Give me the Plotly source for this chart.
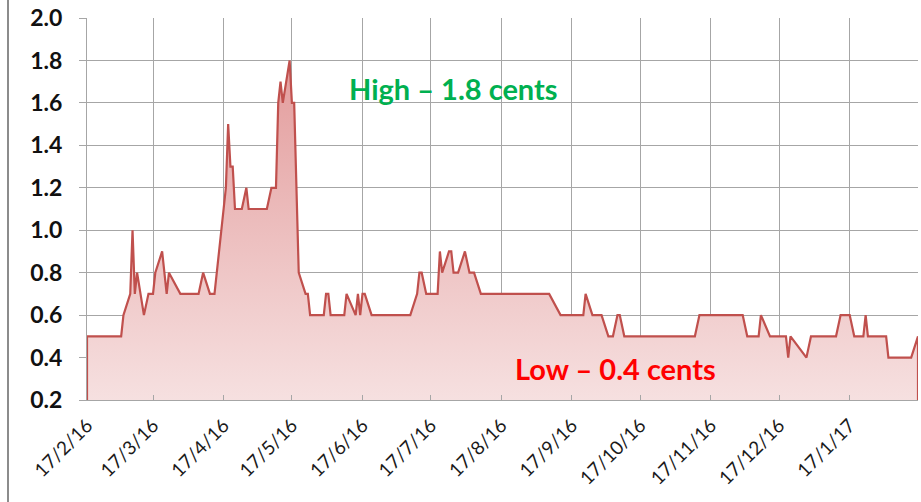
import plotly.graph_objects as go

# ---- data ----
dates = [
    "2016-02-17", "2016-03-03", "2016-03-04", "2016-03-07", "2016-03-08", "2016-03-09",
    "2016-03-10", "2016-03-13", "2016-03-15", "2016-03-17", "2016-03-18", "2016-03-21",
    "2016-03-23", "2016-03-24", "2016-03-29", "2016-04-06", "2016-04-08", "2016-04-11",
    "2016-04-13", "2016-04-18", "2016-04-19", "2016-04-20", "2016-04-21", "2016-04-22",
    "2016-04-25", "2016-04-27", "2016-04-28", "2016-05-06", "2016-05-08", "2016-05-10",
    "2016-05-11", "2016-05-12", "2016-05-13", "2016-05-16", "2016-05-17", "2016-05-18",
    "2016-05-20", "2016-05-23", "2016-05-24", "2016-05-25", "2016-05-31", "2016-06-01",
    "2016-06-02", "2016-06-03", "2016-06-09", "2016-06-10", "2016-06-14", "2016-06-15",
    "2016-06-16", "2016-06-17", "2016-06-18", "2016-06-21", "2016-07-08", "2016-07-11",
    "2016-07-12", "2016-07-13", "2016-07-15", "2016-07-20", "2016-07-21", "2016-07-22",
    "2016-07-25", "2016-07-26", "2016-07-27", "2016-07-29", "2016-08-01", "2016-08-03",
    "2016-08-05", "2016-08-08", "2016-09-07", "2016-09-12", "2016-09-22", "2016-09-23",
    "2016-09-26", "2016-09-30", "2016-10-03", "2016-10-05", "2016-10-07", "2016-10-08",
    "2016-10-10", "2016-11-10", "2016-11-12", "2016-12-01", "2016-12-03", "2016-12-08",
    "2016-12-09", "2016-12-13", "2016-12-20", "2016-12-21", "2016-12-22", "2016-12-29",
    "2016-12-31", "2017-01-11", "2017-01-13", "2017-01-17", "2017-01-19", "2017-01-23",
    "2017-01-24", "2017-01-25", "2017-02-02", "2017-02-03", "2017-02-13", "2017-02-16",
]
cents = [
    0.5, 0.5, 0.6, 0.7, 1.0, 0.7,
    0.8, 0.6, 0.7, 0.7, 0.8, 0.9,
    0.7, 0.8, 0.7, 0.7, 0.8, 0.7,
    0.7, 1.2, 1.5, 1.3, 1.3, 1.1,
    1.1, 1.2, 1.1, 1.1, 1.2, 1.2,
    1.6, 1.7, 1.6, 1.8, 1.6, 1.6,
    0.8, 0.7, 0.7, 0.6, 0.6, 0.7,
    0.7, 0.6, 0.6, 0.7, 0.6, 0.7,
    0.6, 0.7, 0.7, 0.6, 0.6, 0.7,
    0.8, 0.8, 0.7, 0.7, 0.9, 0.8,
    0.9, 0.9, 0.8, 0.8, 0.9, 0.8,
    0.8, 0.7, 0.7, 0.6, 0.6, 0.7,
    0.6, 0.6, 0.5, 0.5, 0.6, 0.6,
    0.5, 0.5, 0.6, 0.6, 0.5, 0.5,
    0.6, 0.5, 0.5, 0.4, 0.5, 0.4,
    0.5, 0.5, 0.6, 0.6, 0.5, 0.5,
    0.6, 0.5, 0.5, 0.4, 0.4, 0.5,
]
tick_dates = [
    "2016-02-17", "2016-03-17", "2016-04-17", "2016-05-17", "2016-06-17", "2016-07-17",
    "2016-08-17", "2016-09-17", "2016-10-17", "2016-11-17", "2016-12-17", "2017-01-17",
]
tick_labels = [
    "17/2/16", "17/3/16", "17/4/16", "17/5/16", "17/6/16", "17/7/16",
    "17/8/16", "17/9/16", "17/10/16", "17/11/16", "17/12/16", "17/1/17",
]
y_ticks = [0.2, 0.4, 0.6, 0.8, 1.0, 1.2, 1.4, 1.6, 1.8, 2.0]
y_min, y_max = 0.2, 2.0
high_label = "High \u2013 1.8 cents"
low_label = "Low \u2013 0.4 cents"

LINE = "#C0504D"
GRID = "#A6A6A6"
FONT = "Lato"

# closed polygon down to the axis floor
poly_x = [dates[0]] + dates + [dates[-1]]
poly_y = [y_min] + cents + [y_min]

fig = go.Figure()
fig.add_trace(go.Scatter(
    x=poly_x, y=poly_y, mode="lines", fill="toself",
    line=dict(color=LINE, width=2.2),
    fillgradient=dict(type="vertical", start=0.2, stop=1.8,
                      colorscale=[[0, "#F6E0E0"], [1, "#E39C9C"]]),
    hoverinfo="skip", showlegend=False, cliponaxis=False,
))

W, H = 921, 502
ml, mr, mt, mb = 87, 3, 18, 102
pw = W - ml - mr
ph = H - mt - mb

fig.update_layout(
    width=W, height=H,
    margin=dict(l=ml, r=mr, t=mt, b=mb, autoexpand=False),
    paper_bgcolor="white", plot_bgcolor="white",
    font=dict(family=FONT, color="#000000"),
    xaxis=dict(
        type="date", range=[dates[0], dates[-1]], automargin=False,
        tickvals=tick_dates, ticktext=tick_labels, tickangle=-45,
        tickfont=dict(size=19, family=FONT, color="#1a1a1a"),
        ticklabelstandoff=6,
        showgrid=True, gridcolor=GRID, gridwidth=1,
        ticks="inside", ticklen=5, tickcolor=GRID,
        showline=True, linecolor=GRID, linewidth=1,
        zeroline=False,
    ),
    yaxis=dict(
        range=[y_min, y_max], tickvals=y_ticks, automargin=False,
        ticktext=[f"{v:.1f}" for v in y_ticks],
        tickfont=dict(size=23, family=FONT, color="#111111", weight="bold"),
        showgrid=True, gridcolor=GRID, gridwidth=1,
        ticks="outside", ticklen=7, tickcolor=GRID,
        ticklabelstandoff=12,
        showline=True, linecolor=GRID, linewidth=1,
        zeroline=False,
    ),
    shapes=[
        # white label box over the grid
        dict(type="rect", xref="paper", yref="paper", layer="between",
             x0=(320 - ml) / pw, x1=(592 - ml) / pw,
             y0=(H - mb - 127) / ph, y1=(H - mb - 58) / ph,
             fillcolor="white", line=dict(width=0)),
        # chart frame left border
        dict(type="line", xref="paper", yref="paper",
             x0=(8 - ml) / pw, x1=(8 - ml) / pw, y0=-mb / ph, y1=(ph + mt) / ph,
             line=dict(color="#8C8C8C", width=2)),
    ],
    annotations=[
        dict(x="2016-07-27", y=1.67, xref="x", yref="y", text=high_label,
             showarrow=False, font=dict(size=29, color="#00B050", family=FONT, weight="bold")),
        dict(x="2016-10-06", y=0.35, xref="x", yref="y", text=low_label,
             showarrow=False, font=dict(size=29, color="#FF0000", family=FONT, weight="bold")),
    ],
)

fig.write_html(
    "out.html",
    config={"displayModeBar": False},
    post_script="document.body.style.margin='0';document.body.style.overflow='hidden';",
)
